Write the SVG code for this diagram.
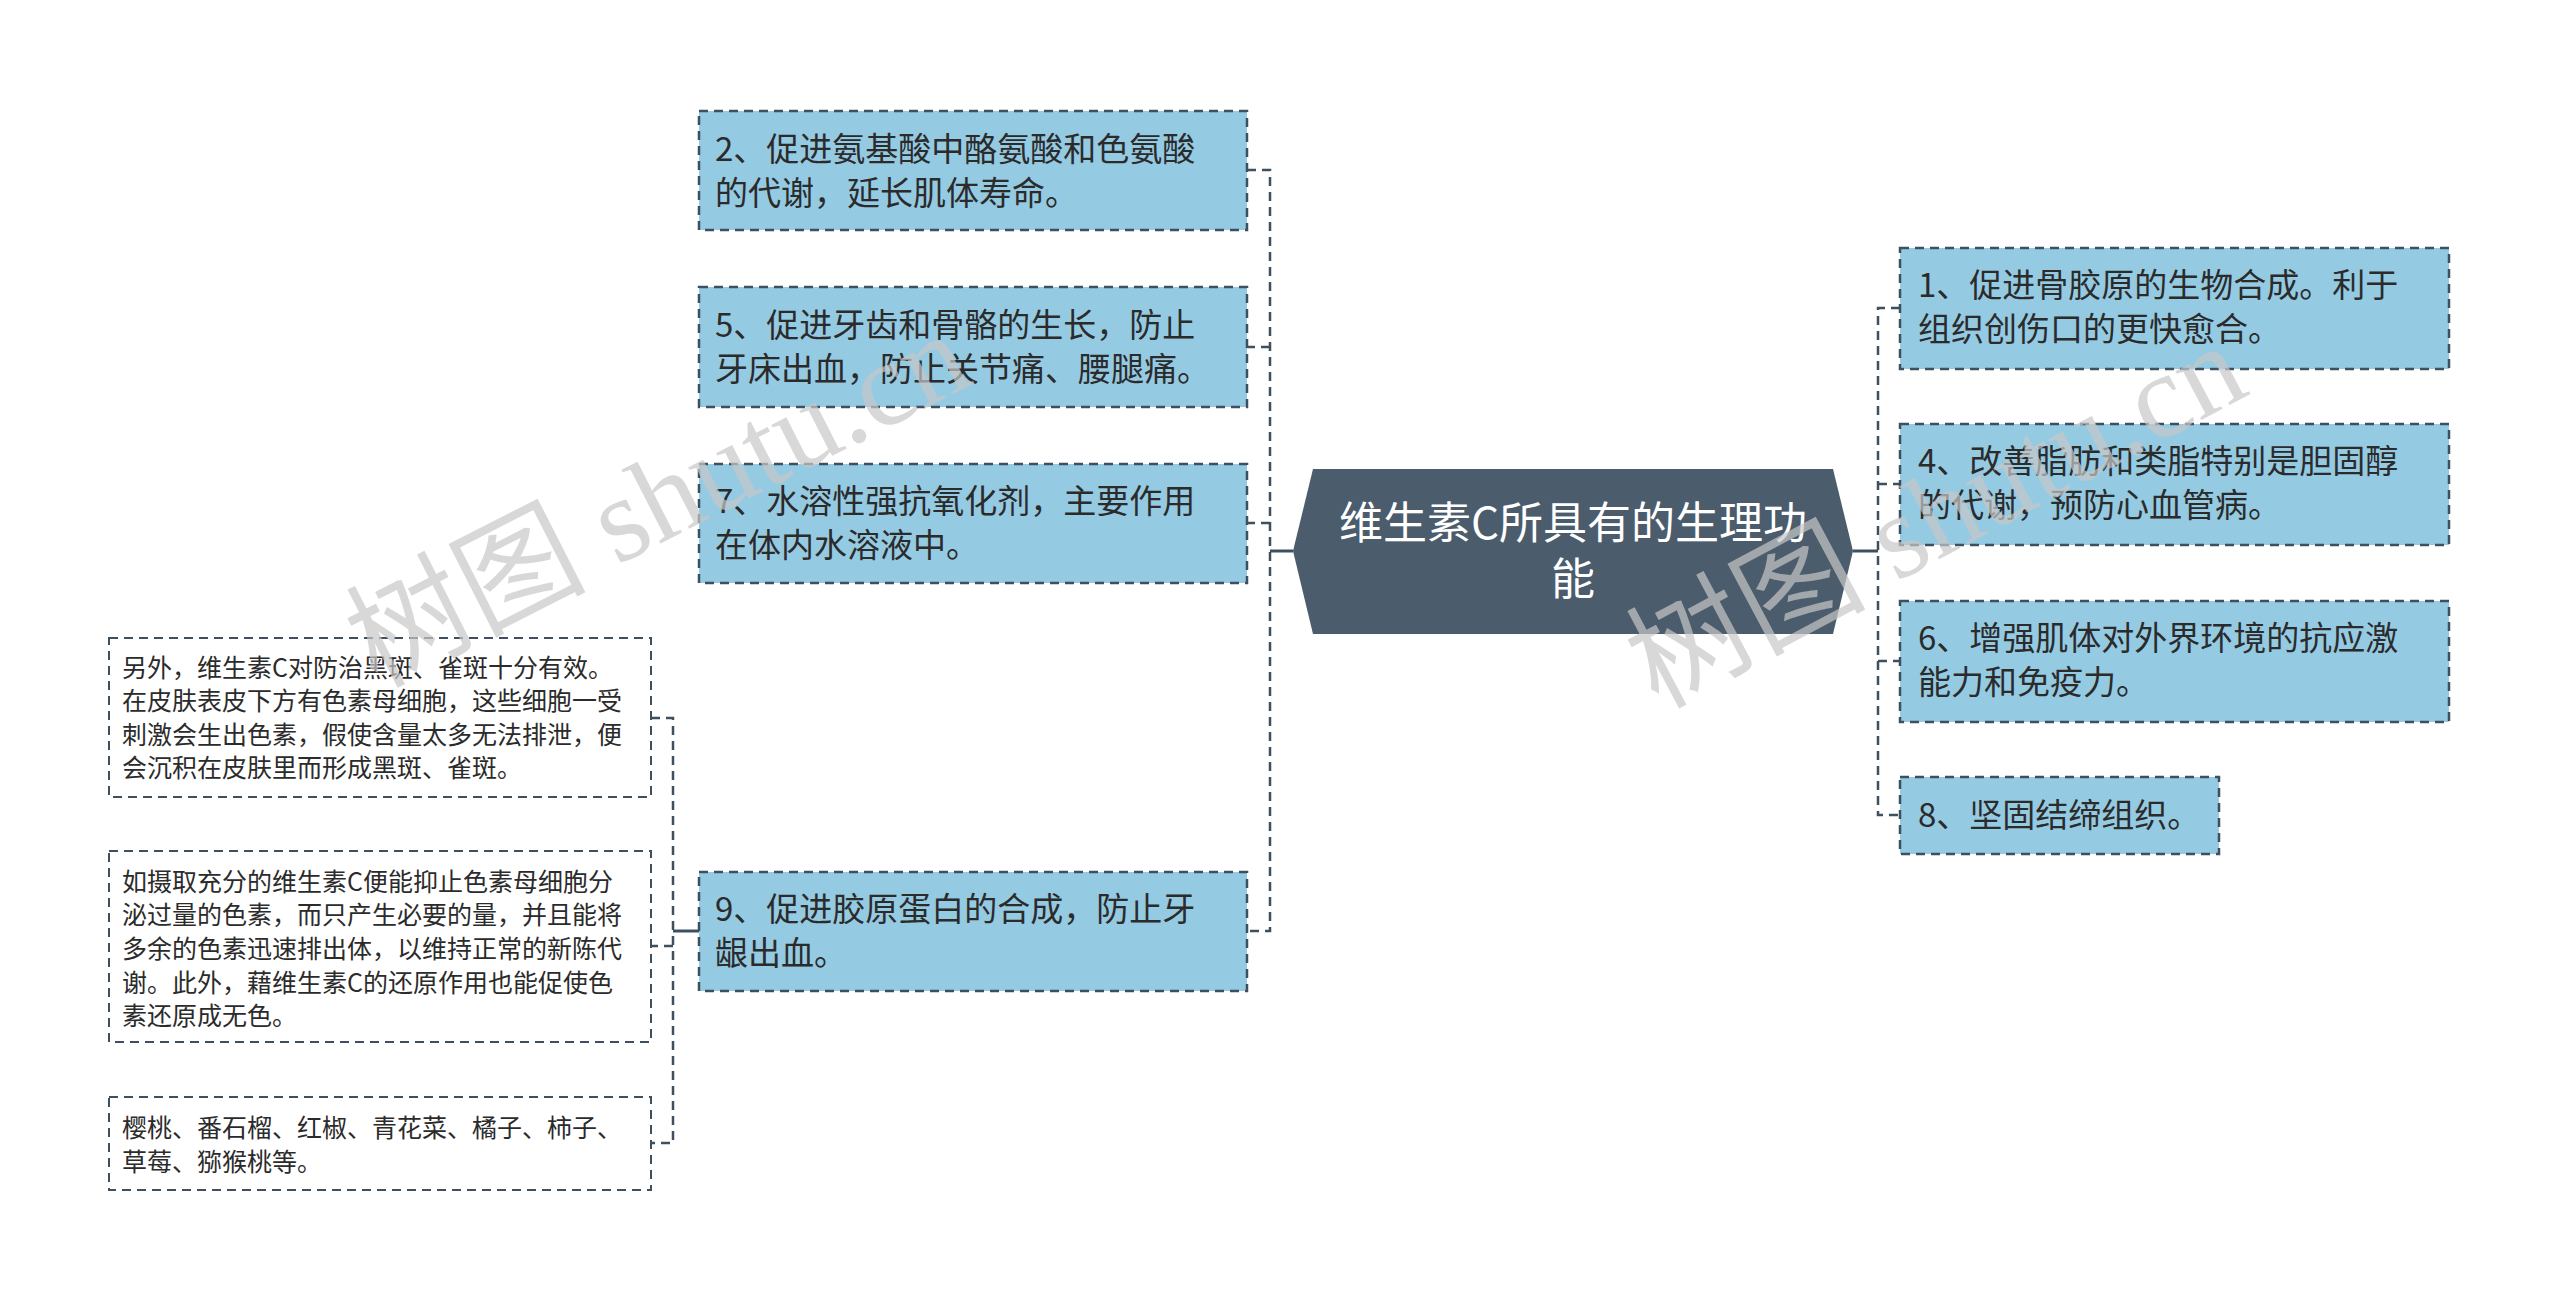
<svg xmlns="http://www.w3.org/2000/svg" width="2560" height="1302" viewBox="0 0 2560 1302">
<style>
.bg{fill:#ffffff}
.blue{fill:#95cae3;stroke:#3e5060;stroke-width:2.5;stroke-dasharray:9 6}
.sub{fill:#ffffff;stroke:#3e5060;stroke-width:2;stroke-dasharray:9 6}
.root{fill:#4b5c6c}
.t{font-family:"Noto Sans CJK SC","Noto Sans",sans-serif;font-size:33px;fill:#2b2b2b}
.ts{font-family:"Noto Sans CJK SC","Noto Sans",sans-serif;font-size:25px;fill:#2b2b2b}
.tr{font-family:"Noto Sans CJK SC","Noto Sans",sans-serif;font-size:44px;fill:#ffffff}
.dash{fill:none;stroke:#3e5060;stroke-width:2.5;stroke-dasharray:9 6}
.solid{fill:none;stroke:#3e5060;stroke-width:3}
.wm{font-family:"Liberation Serif","Noto Sans CJK SC",serif;font-size:120px;fill:#c8c8c8;opacity:0.7}
</style>
<rect class="bg" x="0" y="0" width="2560" height="1302"/>
<g id="connectors">
  <path class="solid" d="M1293 551 H1270"/>
  <path class="dash" d="M1247 170 H1270 V931 H1247 M1270 347 H1247 M1270 523 H1247"/>
  <path class="solid" d="M1853 551 H1878"/>
  <path class="dash" d="M1900 308 H1878 V815 H1900 M1878 484 H1900 M1878 661 H1900"/>
  <path class="solid" d="M699 931 H673"/>
  <path class="dash" d="M651 718 H673 V1143 H651 M673 946 H651"/>
</g>
<g id="root">
  <polygon class="root" points="1293,551 1313,469 1833,469 1853,551 1833,634 1313,634"/>
  <text class="tr" x="1573" y="539" text-anchor="middle">维生素C所具有的生理功</text>
  <text class="tr" x="1573" y="595" text-anchor="middle">能</text>
</g>
<g id="n2">
  <rect class="blue" x="699" y="111" width="548" height="119"/>
  <text class="t" x="715" y="161">2、促进氨基酸中酪氨酸和色氨酸</text>
  <text class="t" x="715" y="205">的代谢，延长肌体寿命。</text>
</g>
<g id="n5">
  <rect class="blue" x="699" y="287" width="548" height="120"/>
  <text class="t" x="715" y="337">5、促进牙齿和骨骼的生长，防止</text>
  <text class="t" x="715" y="381">牙床出血，防止关节痛、腰腿痛。</text>
</g>
<g id="n7">
  <rect class="blue" x="699" y="464" width="548" height="119"/>
  <text class="t" x="715" y="513">7、水溶性强抗氧化剂，主要作用</text>
  <text class="t" x="715" y="557">在体内水溶液中。</text>
</g>
<g id="n9">
  <rect class="blue" x="699" y="872" width="548" height="119"/>
  <text class="t" x="715" y="921">9、促进胶原蛋白的合成，防止牙</text>
  <text class="t" x="715" y="965">龈出血。</text>
</g>
<g id="n1">
  <rect class="blue" x="1900" y="248" width="549" height="121"/>
  <text class="t" x="1918" y="297">1、促进骨胶原的生物合成。利于</text>
  <text class="t" x="1918" y="341">组织创伤口的更快愈合。</text>
</g>
<g id="n4">
  <rect class="blue" x="1900" y="424" width="549" height="121"/>
  <text class="t" x="1918" y="473">4、改善脂肪和类脂特别是胆固醇</text>
  <text class="t" x="1918" y="517">的代谢，预防心血管病。</text>
</g>
<g id="n6">
  <rect class="blue" x="1900" y="601" width="549" height="121"/>
  <text class="t" x="1918" y="650">6、增强肌体对外界环境的抗应激</text>
  <text class="t" x="1918" y="694">能力和免疫力。</text>
</g>
<g id="n8">
  <rect class="blue" x="1900" y="777" width="319" height="77"/>
  <text class="t" x="1918" y="827">8、坚固结缔组织。</text>
</g>
<g id="s1">
  <rect class="sub" x="109" y="638" width="542" height="159"/>
  <text class="ts" x="122" y="677">另外，维生素C对防治黑斑、雀斑十分有效。</text>
  <text class="ts" x="122" y="710">在皮肤表皮下方有色素母细胞，这些细胞一受</text>
  <text class="ts" x="122" y="744">刺激会生出色素，假使含量太多无法排泄，便</text>
  <text class="ts" x="122" y="777">会沉积在皮肤里而形成黑斑、雀斑。</text>
</g>
<g id="s2">
  <rect class="sub" x="109" y="851" width="542" height="191"/>
  <text class="ts" x="122" y="891">如摄取充分的维生素C便能抑止色素母细胞分</text>
  <text class="ts" x="122" y="924">泌过量的色素，而只产生必要的量，并且能将</text>
  <text class="ts" x="122" y="958">多余的色素迅速排出体，以维持正常的新陈代</text>
  <text class="ts" x="122" y="992">谢。此外，藉维生素C的还原作用也能促使色</text>
  <text class="ts" x="122" y="1025">素还原成无色。</text>
</g>
<g id="s3">
  <rect class="sub" x="109" y="1097" width="542" height="93"/>
  <text class="ts" x="122" y="1137">樱桃、番石榴、红椒、青花菜、橘子、柿子、</text>
  <text class="ts" x="122" y="1171">草莓、猕猴桃等。</text>
</g>
<g id="watermark">
  <text class="wm" x="657" y="540" text-anchor="middle" transform="rotate(-27 657 498)">树图 shutu.cn</text>
  <text class="wm" x="1935" y="556" text-anchor="middle" transform="rotate(-28 1935 514)">树图 shutu.cn</text>
</g>
</svg>
